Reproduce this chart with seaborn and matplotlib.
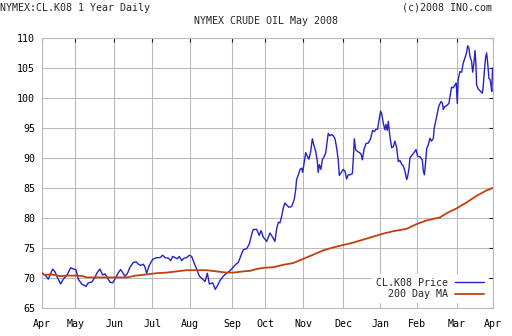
import matplotlib
matplotlib.use("Agg")
import matplotlib.pyplot as plt
import seaborn as sns
import pandas as pd

# Trading-day index (0 = first session of April 2007) and settle price
price_points = [
    (0, 70.8), (1.7, 70.5), (3.5, 69.8), (4.5, 70.5), (6.0, 71.5), (7.3, 71.0),
    (8.6, 70.1), (10.4, 69.0), (11.9, 69.8), (13.8, 70.4), (14.7, 70.9), (16.0, 71.7),
    (17.5, 71.5), (19.0, 71.4), (20.3, 69.8), (22.2, 69.0), (24.6, 68.6), (25.9, 69.2),
    (27.8, 69.3), (29.6, 70.1), (30.9, 70.9), (32.4, 71.5), (33.9, 70.5), (35.2, 70.7),
    (36.5, 70.1), (38.0, 69.3), (39.5, 69.2), (40.8, 69.8), (42.7, 70.9), (44.0, 71.4),
    (45.1, 70.9), (46.4, 70.3), (47.7, 70.7), (49.2, 71.8), (51.1, 72.6), (52.6, 72.7),
    (53.9, 72.3), (55.2, 72.1), (56.7, 72.3), (57.6, 71.8), (58.5, 70.8), (60.0, 72.1),
    (61.9, 73.1), (64.1, 73.4), (66.0, 73.4), (67.5, 73.8), (68.8, 73.4), (70.7, 73.3),
    (72.0, 72.9), (73.1, 73.6), (74.4, 73.4), (75.7, 73.2), (76.8, 73.6), (78.1, 72.9),
    (79.4, 73.3), (80.9, 73.4), (82.4, 73.8), (83.7, 73.6), (85.0, 72.6), (86.5, 71.5),
    (88.0, 70.3), (89.9, 69.8), (91.2, 69.4), (92.5, 70.8), (93.6, 69.0), (95.5, 69.2),
    (96.9, 68.1), (98.1, 68.7), (99.6, 69.6), (101.4, 70.3), (103.3, 70.8), (105.1, 71.2),
    (107.0, 71.8), (108.5, 72.3), (109.8, 72.6), (111.1, 73.6), (112.6, 74.7), (114.5, 74.9),
    (116.0, 75.7), (117.3, 77.3), (118.2, 78.1), (120.1, 78.1), (121.5, 77.1), (122.5, 77.9),
    (123.8, 76.8), (125.7, 76.1), (127.5, 77.5), (128.8, 76.9), (130.3, 76.1), (131.2, 78.1),
    (132.2, 79.3), (133.1, 79.2), (134.0, 80.2), (135.0, 81.7), (135.9, 82.5), (136.8, 82.2),
    (138.1, 81.8), (139.6, 81.9), (141.1, 83.1), (141.9, 84.7), (142.4, 86.4), (143.4, 87.2),
    (144.3, 88.1), (145.2, 88.3), (145.8, 87.6), (146.7, 89.4), (147.5, 90.9), (148.4, 90.3),
    (149.3, 89.8), (150.3, 91.1), (151.2, 93.2), (152.1, 92.1), (153.1, 91.1), (154.0, 89.4),
    (154.5, 87.6), (155.1, 88.9), (156.0, 88.1), (156.8, 89.7), (157.9, 90.3), (158.7, 90.9),
    (159.4, 92.5), (160.1, 94.1), (161.1, 93.7), (162.0, 93.9), (162.9, 93.7), (163.9, 93.2),
    (164.8, 91.7), (165.7, 89.7), (166.3, 87.1), (167.2, 87.5), (168.5, 88.1), (169.5, 87.8),
    (170.4, 86.5), (171.3, 87.2), (172.3, 87.2), (173.6, 87.4), (174.1, 89.7), (174.7, 93.2),
    (175.4, 91.4), (176.4, 91.1), (177.5, 90.9), (178.4, 90.7), (179.2, 89.7), (180.1, 91.4),
    (181.2, 92.4), (182.5, 92.5), (183.8, 93.2), (184.9, 94.6), (185.9, 94.4), (186.8, 94.8),
    (187.7, 94.8), (188.7, 96.7), (189.4, 97.8), (190.0, 97.4), (190.9, 95.8), (191.8, 94.7),
    (192.4, 95.6), (193.1, 94.6), (193.7, 96.1), (194.6, 93.6), (195.6, 91.7), (196.5, 91.9),
    (197.4, 92.8), (198.4, 91.7), (199.3, 89.4), (200.2, 89.6), (201.3, 88.9), (202.1, 88.7),
    (203.0, 87.8), (204.0, 86.4), (204.5, 86.9), (205.3, 88.3), (205.8, 90.0), (206.7, 90.4),
    (208.1, 90.9), (209.2, 91.4), (210.1, 90.3), (211.4, 90.2), (212.7, 89.7), (213.3, 87.8),
    (213.9, 87.2), (214.6, 89.4), (215.2, 91.6), (216.1, 92.2), (217.0, 93.3), (217.9, 92.8),
    (218.9, 93.3), (219.4, 95.0), (220.4, 96.4), (221.3, 97.6), (222.0, 98.7), (223.2, 99.4),
    (223.9, 99.2), (224.5, 98.1), (225.4, 98.6), (226.3, 98.7), (227.6, 99.1), (228.4, 100.6),
    (229.1, 101.8), (230.1, 101.7), (231.0, 102.2), (231.7, 102.5), (232.3, 99.1), (232.8, 103.1),
    (233.8, 104.4), (234.7, 104.3), (235.6, 105.8), (236.6, 106.7), (237.5, 107.6), (238.1, 108.7),
    (238.8, 108.3), (239.4, 106.9), (240.3, 106.1), (240.9, 104.3), (241.6, 105.8), (242.2, 107.9),
    (242.7, 105.8), (243.1, 102.2), (244.0, 101.5), (245.0, 101.2), (246.3, 100.8), (246.8, 101.9),
    (247.4, 104.4), (248.1, 106.7), (248.7, 107.5), (249.3, 105.8), (250.0, 103.3), (250.6, 103.1),
    (251.1, 102.2), (251.6, 101.1), (252.0, 105.0),
]

# 200-day moving average of the settle price
ma_points = [
    (0, 70.8), (1.7, 70.5), (4.5, 70.6), (7.3, 70.5), (10.1, 70.3), (13.8, 70.4),
    (19.4, 70.4), (23.1, 70.3), (25.0, 70.1), (30.6, 70.1), (36.2, 70.1), (41.8, 70.1),
    (47.4, 70.1), (52.6, 70.4), (58.5, 70.6), (64.1, 70.8), (69.7, 70.9), (75.3, 71.1),
    (80.9, 71.3), (86.5, 71.3), (92.1, 71.3), (97.7, 71.1), (103.3, 70.9), (107.0, 70.9),
    (112.6, 71.1), (116.4, 71.2), (120.1, 71.5), (123.8, 71.7), (129.4, 71.8), (135.0, 72.2),
    (140.6, 72.5), (146.2, 73.2), (151.8, 73.9), (157.3, 74.6), (162.9, 75.1), (168.5, 75.5),
    (174.1, 75.9), (179.7, 76.4), (185.3, 76.9), (190.9, 77.4), (196.5, 77.8), (204.0, 78.2),
    (209.6, 79.0), (215.2, 79.6), (222.6, 80.1), (226.3, 80.8), (231.9, 81.6), (237.5, 82.6),
    (243.1, 83.7), (248.7, 84.6), (252.0, 85.0),
]

# First trading day of each month
month_days = [0, 18.6, 40.4, 61.7, 82.6, 106.4, 124.7, 146.1, 168.3, 189.2, 209.9, 231.9, 252.1]
month_labels = ["Apr", "May", "Jun", "Jul", "Aug", "Sep", "Oct", "Nov", "Dec",
                "Jan", "Feb", "Mar", "Apr"]
price_ticks = [65, 70, 75, 80, 85, 90, 95, 100, 105, 110]

PRICE_COLOR = "#2323c8"
MA_COLOR = "#c04010"
GRID_COLOR = "#b9b9b9"
FS = 7.2

sns.set_style("white")
plt.rcParams["font.family"] = ["DejaVu Sans Mono"]

price_df = pd.DataFrame(price_points, columns=["day", "price"])
ma_df = pd.DataFrame(ma_points, columns=["day", "price"])

fig = plt.figure(figsize=(5.12, 3.36), dpi=100)
fig.patch.set_facecolor("white")
ax = fig.add_axes([42 / 512, 28 / 336, 450.7 / 512, 270 / 336])

sns.lineplot(data=price_df, x="day", y="price", ax=ax, color=PRICE_COLOR,
             lw=1.0, estimator=None, sort=False, label="CL.K08 Price", zorder=3)
sns.lineplot(data=ma_df, x="day", y="price", ax=ax, color=MA_COLOR,
             lw=1.3, estimator=None, sort=False, label="200 Day MA", zorder=3)

ax.set_xlim(month_days[0], month_days[-1])
ax.set_ylim(price_ticks[0], price_ticks[-1])
ax.set_xticks(month_days)
ax.set_xticklabels(month_labels)
ax.set_yticks(price_ticks)
ax.set_xlabel("")
ax.set_ylabel("")

ax.grid(True, color=GRID_COLOR, lw=0.75)
ax.set_axisbelow(True)
for s in ax.spines.values():
    s.set_color(GRID_COLOR)
    s.set_linewidth(0.75)

ax.tick_params(axis="both", direction="in", length=3, width=0.8, color="#202020",
               top=True, right=True, labelsize=FS, labelcolor="black")
ax.tick_params(axis="x", pad=8)
ax.tick_params(axis="y", pad=5)

leg = ax.legend(loc="lower right", markerfirst=False, fontsize=FS,
                handlelength=2.9, handletextpad=0.7, labelspacing=0.15,
                borderpad=0.4, borderaxespad=0.5, frameon=True, fancybox=False)
leg.get_frame().set_facecolor("white")
leg.get_frame().set_edgecolor("none")
leg.get_frame().set_alpha(1.0)
# right-align the legend rows so the labels end at the same column
for column in leg._legend_handle_box.get_children():
    column.align = "right"

fig.text(0.0, 1 - 3 / 336, "NYMEX:CL.K08 1 Year Daily", ha="left", va="top", fontsize=FS)
fig.text(492 / 512, 1 - 3 / 336, "(c)2008 INO.com", ha="right", va="top", fontsize=FS)
fig.text(265.5 / 512, 1 - 16 / 336, "NYMEX CRUDE OIL May 2008", ha="center", va="top", fontsize=FS)

fig.savefig("out.png", dpi=100, facecolor="white")
